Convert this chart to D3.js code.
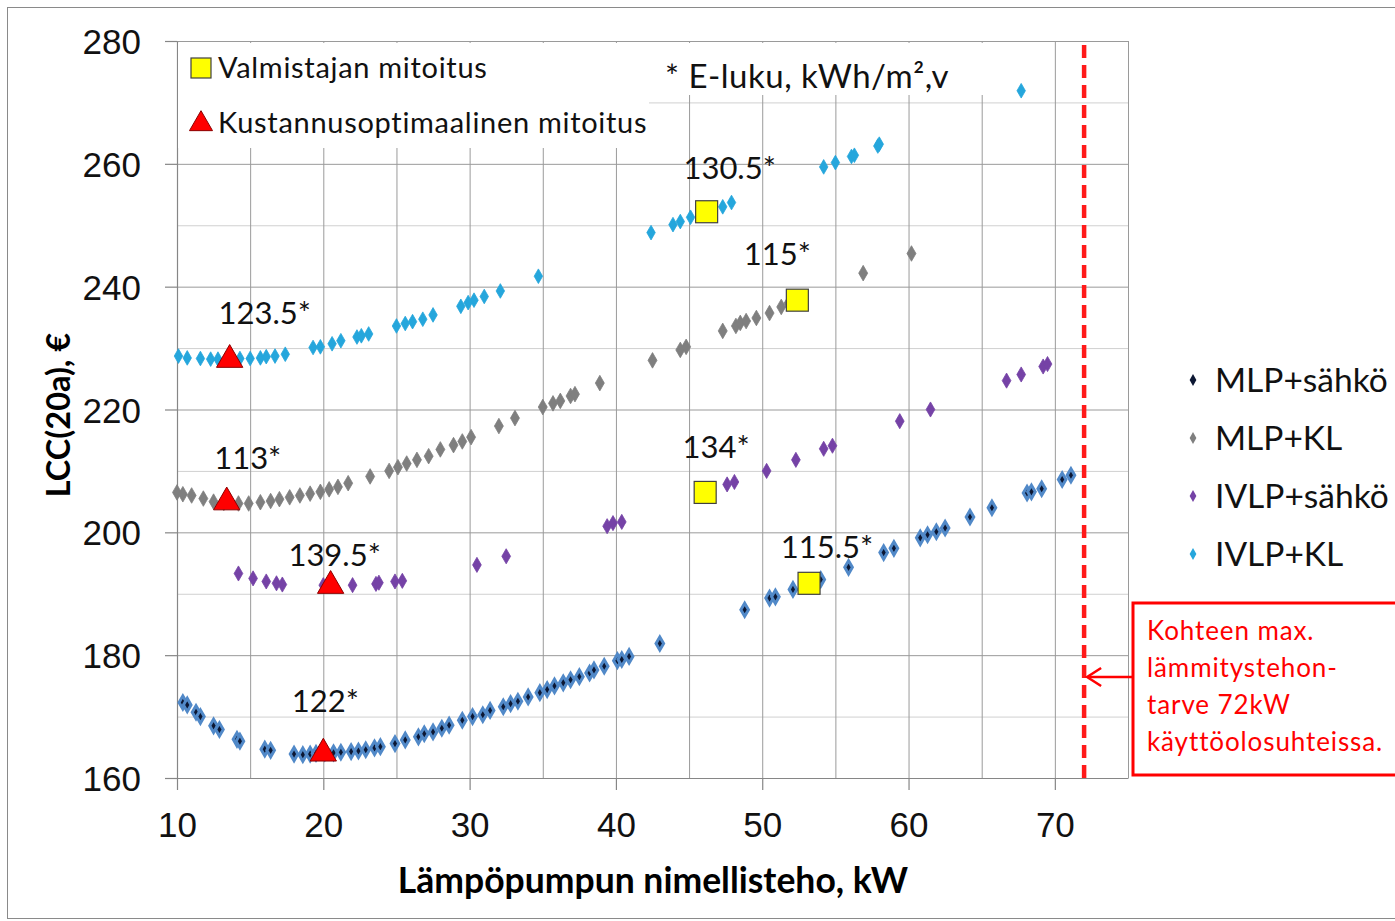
<!DOCTYPE html>
<html>
<head>
<meta charset="utf-8">
<script src="https://cdn.jsdelivr.net/npm/d3@7"></script>
<style>
  body { margin: 0; background: #fff; }
  svg { font-family: Lato, "Open Sans", sans-serif; }
  .grid line { stroke: #9a9a9a; stroke-width: 1; }
  .grid.minor line { stroke: #d0d0d0; }
  .grid path { stroke: none; }
  .axis path, .axis line { stroke: #868686; stroke-width: 1.2; }
  .axis text { font-size: 35px; fill: #111; }
</style>
</head>
<body>
<div id="chart"></div>
<script>
// ---- data (kW, LCC(20a) €) ----
var mlpSahko = [
  [10.4,172.3],[10.7,171.9],[11.3,170.7],[11.6,170.0],[12.5,168.5],[12.9,167.9],[14.1,166.3],[14.3,166.0],
  [16.0,164.7],[16.4,164.5],[18.0,163.9],[18.6,163.8],[19.1,163.9],[19.5,164.0],[20.1,164.1],[20.7,164.1],
  [21.2,164.2],[21.9,164.3],[22.4,164.4],[22.9,164.6],[23.5,164.9],[23.9,165.1],[24.9,165.6],[25.6,166.2],
  [26.5,166.7],[26.9,167.2],[27.5,167.5],[28.1,168.1],[28.6,168.6],[29.5,169.4],[30.2,170.0],[30.9,170.3],
  [31.4,171.0],[32.3,171.6],[32.8,172.1],[33.3,172.5],[34.0,173.2],[34.8,173.9],[35.3,174.4],[35.8,175.0],
  [36.4,175.5],[36.9,176.0],[37.5,176.5],[38.2,177.1],[38.5,177.6],[39.2,178.2],[40.1,179.1],[40.4,179.3],
  [40.9,179.8],[43.0,181.9],[48.8,187.4],[50.5,189.3],[50.9,189.5],[52.1,190.7],[54.0,192.3],[55.9,194.3],
  [58.3,196.7],[59.0,197.4],[60.8,199.1],[61.3,199.6],[61.9,200.1],[62.5,200.7],[64.2,202.5],[65.7,204.0],
  [68.1,206.4],[68.4,206.6],[69.1,207.1],[70.5,208.6],[71.1,209.3]
];
var mlpKl = [
  [10.0,206.5],[10.4,206.2],[11.0,206.0],[11.8,205.5],[12.5,205.0],[13.2,204.8],[14.2,204.7],[14.9,204.7],
  [15.7,204.9],[16.4,205.1],[17.0,205.4],[17.7,205.7],[18.4,206.0],[19.1,206.3],[19.8,206.6],[20.4,207.0],
  [21.0,207.4],[21.7,208.0],[23.2,209.1],[24.5,210.0],[25.1,210.6],[25.7,211.2],[26.4,211.8],[27.2,212.4],
  [28.0,213.5],[28.9,214.2],[29.5,214.8],[30.1,215.5],[32.0,217.3],[33.1,218.6],[35.0,220.4],[35.7,221.0],
  [36.2,221.4],[36.9,222.2],[37.2,222.5],[38.9,224.3],[42.5,228.0],[44.4,229.7],[44.8,230.2],[47.3,232.8],
  [48.2,233.6],[48.5,234.1],[48.9,234.4],[49.6,234.9],[50.5,235.7],[51.3,236.7],[51.8,237.3],[56.9,242.2],
  [60.2,245.4]
];
var ivlpSahko = [
  [14.2,193.3],[15.2,192.5],[16.1,192.0],[16.8,191.7],[17.2,191.5],[20.0,191.4],[22.0,191.4],[23.6,191.6],
  [23.8,191.8],[24.9,192.0],[25.4,192.1],[30.5,194.7],[32.5,196.1],[39.4,201.0],[39.8,201.5],[40.4,201.7],
  [47.6,207.8],[48.1,208.2],[50.3,210.0],[52.3,211.8],[54.2,213.6],[54.8,214.1],[59.4,218.1],[61.5,220.0],
  [66.7,224.7],[67.7,225.7],[69.2,227.0],[69.5,227.4]
];
var ivlpKl = [
  [10.1,228.7],[10.7,228.4],[11.6,228.3],[12.3,228.2],[12.8,228.2],[13.5,228.1],[14.3,228.3],[15.0,228.3],
  [15.7,228.4],[16.1,228.6],[16.7,228.7],[17.4,229.0],[19.3,230.1],[19.8,230.2],[20.6,230.7],[21.2,231.2],
  [22.3,231.8],[22.6,232.0],[23.1,232.3],[25.0,233.6],[25.6,234.0],[26.1,234.3],[26.8,234.7],[27.5,235.4],
  [29.4,236.8],[29.9,237.4],[30.3,237.8],[31.0,238.4],[32.1,239.3],[34.7,241.7],[42.4,248.8],[43.9,250.1],
  [44.4,250.6],[45.1,251.3],[47.3,253.0],[47.9,253.7],[54.2,259.5],[55.0,260.2],[56.1,261.2],[56.3,261.4],
  [57.9,262.9],[58.0,263.2],[67.7,271.9]
];

// manufacturer sizing (squares) and cost optimum (triangles), with E-luku labels
var valmistaja = [[46.2,252.2,"130.5*"],[52.4,237.8,"115*"],[46.1,206.5,"134*"],[53.2,191.7,"115.5*"]];
var optimi = [[13.6,228.1,"123.5*"],[13.4,204.9,"113*"],[20.5,191.3,"139.5*"],[20.0,164.0,"122*"]];

var seriesNames = ["MLP+sähkö","MLP+KL","IVLP+sähkö","IVLP+KL"];
var xTicks = [10,20,30,40,50,60,70];
var yTicks = [160,180,200,220,240,260,280];
var maxDemand = 72;

// ---- layout ----
var W = 1395, H = 921;
var margin = {top: 41, left: 177},
    width = 951, height = 737;

var x = d3.scaleLinear().domain([10, 75]).range([0, width]);
var y = d3.scaleLinear().domain([160, 280]).range([height, 0]);

var svg = d3.select("#chart").append("svg")
    .attr("width", W).attr("height", H);

// outer chart frame
svg.append("rect")
    .attr("x", 7.5).attr("y", 7.5).attr("width", W).attr("height", H - 10)
    .attr("fill", "none").attr("stroke", "#8a8a8a").attr("stroke-width", 1);

var g = svg.append("g")
    .attr("transform", "translate(" + margin.left + "," + margin.top + ")");

// minor gridlines
g.append("g").attr("class", "grid minor")
    .call(d3.axisLeft(y).tickValues(d3.range(170, 280, 20)).tickSize(-width).tickFormat(""));
// vertical gridlines every 5 kW
g.append("g").attr("class", "grid")
    .attr("transform", "translate(0," + height + ")")
    .call(d3.axisBottom(x).tickValues(d3.range(15, 76, 5)).tickSize(-height).tickFormat(""));
// major horizontal gridlines
g.append("g").attr("class", "grid")
    .call(d3.axisLeft(y).tickValues(yTicks.slice(1)).tickSize(-width).tickFormat(""));

// axes
var xAxis = g.append("g").attr("class", "axis")
    .attr("transform", "translate(0," + height + ")")
    .call(d3.axisBottom(x).tickValues(xTicks).tickSize(12).tickSizeOuter(0).tickPadding(22));
var yAxis = g.append("g").attr("class", "axis")
    .call(d3.axisLeft(y).tickValues(yTicks).tickSize(12).tickSizeOuter(0).tickPadding(24));
yAxis.selectAll("text").attr("dy", "0.36em");

// axis titles
svg.append("text")
    .attr("x", 653).attr("y", 893)
    .attr("text-anchor", "middle")
    .style("font-size", "35.5px").style("font-weight", "bold")
    .text("Lämpöpumpun nimellisteho, kW");
svg.append("text")
    .attr("transform", "translate(70,415) rotate(-90)")
    .attr("text-anchor", "middle")
    .style("font-size", "32.5px").style("font-weight", "bold")
    .text("LCC(20a), €");

// legend boxes inside plot (white, hide the grid)
g.append("rect").attr("x", 1).attr("y", 2).attr("width", 471).attr("height", 105).attr("fill", "#fff");
g.append("rect").attr("x", 472).attr("y", 2).attr("width", 362).attr("height", 52).attr("fill", "#fff");

// series
var diamond = d3.symbol().type(d3.symbolDiamond);
function drawSeries(data, size, fill, stroke, sw) {
  g.append("g").selectAll("path")
    .data(data)
    .enter().append("path")
      .attr("transform", function(d) { return "translate(" + x(d[0]) + "," + y(d[1]) + ")"; })
      .attr("d", diamond.size(size)())
      .attr("fill", fill)
      .attr("stroke", stroke)
      .attr("stroke-width", sw);
}
drawSeries(ivlpKl, 62, "#25a6dc", "#25a6dc", 0.8);
drawSeries(mlpKl, 70, "#7f7f7f", "#7f7f7f", 0.8);
drawSeries(ivlpSahko, 66, "#7542a6", "#7542a6", 0.8);
drawSeries(mlpSahko, 50, "#0c1733", "#5189c8", 3);

// max heating demand line
g.append("line")
    .attr("x1", x(maxDemand)).attr("x2", x(maxDemand))
    .attr("y1", 4).attr("y2", height)
    .attr("stroke", "#ff1a1a").attr("stroke-width", 4.5)
    .attr("stroke-dasharray", "13,7");

// markers: squares and triangles
g.append("g").selectAll("rect")
    .data(valmistaja)
    .enter().append("rect")
      .attr("x", function(d) { return x(d[0]) - 11; })
      .attr("y", function(d) { return y(d[1]) - 11; })
      .attr("width", 22).attr("height", 22)
      .attr("fill", "#ffff00").attr("stroke", "#404040").attr("stroke-width", 1.2);

var tri = d3.symbol().type(d3.symbolTriangle).size(300);
g.append("g").selectAll("path")
    .data(optimi)
    .enter().append("path")
      .attr("transform", function(d) { return "translate(" + x(d[0]) + "," + y(d[1]) + ")"; })
      .attr("d", tri())
      .attr("fill", "#ff0000").attr("stroke", "#8b0000").attr("stroke-width", 1);

// E-luku labels
var squareOffsets = [[23, -33], [-20, -35], [11, -34], [18, -25]];
var triOffsets = [[35, -36], [21, -33], [4, -20], [2, -41]];
function drawLabels(data, offs) {
  g.append("g").selectAll("text")
    .data(data)
    .enter().append("text")
      .attr("x", function(d, i) { return x(d[0]) + offs[i][0]; })
      .attr("y", function(d, i) { return y(d[1]) + offs[i][1]; })
      .attr("text-anchor", "middle")
      .style("font-size", "31px").style("fill", "#111")
      .text(function(d) { return d[2]; });
}
drawLabels(valmistaja, squareOffsets);
drawLabels(optimi, triOffsets);

// legend: markers
var lg = g.append("g").attr("transform", "translate(14,0)");
lg.append("rect").attr("x", 0).attr("y", 17).attr("width", 20).attr("height", 20)
    .attr("fill", "#ffff00").attr("stroke", "#404040").attr("stroke-width", 1.2);
lg.append("text").attr("x", 27).attr("y", 37).style("font-size", "29px").style("letter-spacing", "0.7px")
    .style("fill", "#111").text("Valmistajan mitoitus");
lg.append("path").attr("transform", "translate(10,83)")
    .attr("d", d3.symbol().type(d3.symbolTriangle).size(230)())
    .attr("fill", "#ff0000").attr("stroke", "#8b0000").attr("stroke-width", 1);
lg.append("text").attr("x", 27).attr("y", 92).style("font-size", "29px").style("letter-spacing", "0.7px")
    .style("fill", "#111").text("Kustannusoptimaalinen mitoitus");

g.append("text").attr("x", 488).attr("y", 47)
    .style("font-size", "33px").style("letter-spacing", "0.5px").style("fill", "#111")
    .text("* E-luku, kWh/m²,v");

// series legend
var legendColors = ["#0c1733", "#7f7f7f", "#7542a6", "#25a6dc"];
var sl = svg.append("g").attr("transform", "translate(1193,380)");
seriesNames.forEach(function(name, i) {
  sl.append("path")
    .attr("transform", "translate(0," + (i * 58) + ")")
    .attr("d", d3.symbol().type(d3.symbolDiamond).size(40)())
    .attr("fill", legendColors[i]);
  sl.append("text")
    .attr("x", 22).attr("y", i * 58 + 12)
    .style("font-size", "33.5px").style("fill", "#111")
    .text(name);
});

// annotation box
var boxX = 1133, boxY = 603;
svg.append("rect")
    .attr("x", boxX).attr("y", boxY).attr("width", 280).attr("height", 172)
    .attr("fill", "#fff").attr("stroke", "#ff0000").attr("stroke-width", 3);
var noteLines = ["Kohteen max.", "lämmitystehon-", "tarve 72kW", "käyttöolosuhteissa."];
svg.append("g").selectAll("text")
    .data(noteLines)
    .enter().append("text")
      .attr("x", boxX + 14)
      .attr("y", function(d, i) { return boxY + 37 + i * 37; })
      .style("font-size", "26px").style("letter-spacing", "0.9px").style("fill", "#ff0000")
      .text(function(d) { return d; });

// arrow from box to the dashed line
var ay = boxY + 74, ax = margin.left + x(maxDemand) + 3;
svg.append("line")
    .attr("x1", boxX).attr("x2", ax + 2).attr("y1", ay).attr("y2", ay)
    .attr("stroke", "#ff0000").attr("stroke-width", 2.5);
svg.append("path")
    .attr("d", "M" + (ax + 14) + "," + (ay - 9) + " L" + ax + "," + ay + " L" + (ax + 14) + "," + (ay + 9))
    .attr("fill", "none").attr("stroke", "#ff0000").attr("stroke-width", 2.5);
</script>
</body>
</html>
